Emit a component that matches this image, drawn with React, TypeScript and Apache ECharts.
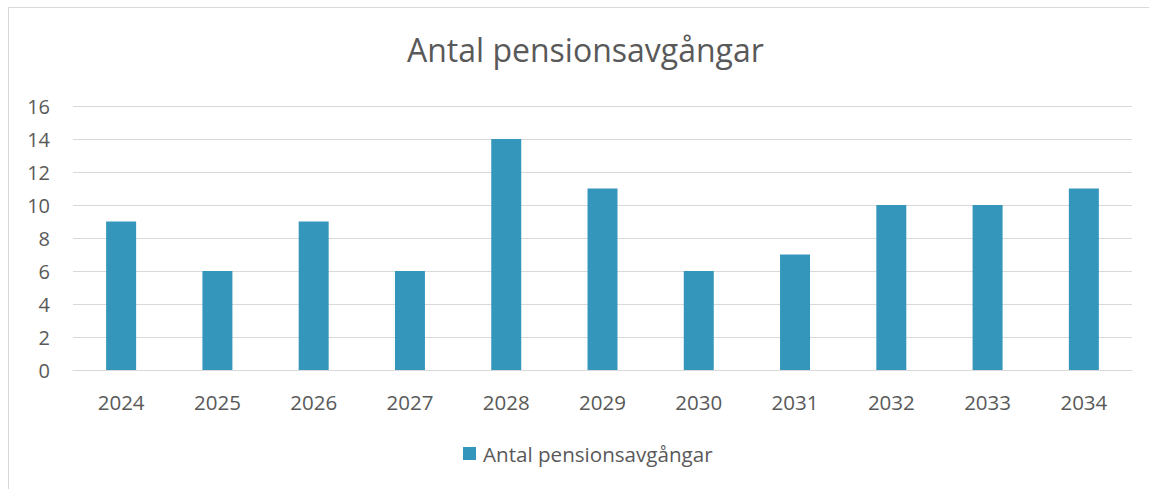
import React, { useEffect, useRef } from "react";
import * as echarts from "echarts";

const years = ["2024", "2025", "2026", "2027", "2028", "2029", "2030", "2031", "2032", "2033", "2034"];
const values = [9, 6, 9, 6, 14, 11, 6, 7, 10, 10, 11];
const seriesName = "Antal pensionsavgångar";
const titleText = "Antal pensionsavgångar";

export default function App() {
  const ref = useRef<HTMLDivElement>(null);
  useEffect(() => {
    if (!ref.current) return;
    const chart = echarts.init(ref.current, null, { renderer: "svg" });
    const font = "Open Sans";
    chart.setOption({
      animation: false,
      backgroundColor: "#ffffff",
      title: {
        text: titleText,
        left: 402,
        top: 28,
        textStyle: { fontFamily: font, fontSize: 32, fontWeight: "normal", color: "#595959" },
      },
      graphic: [
        {
          type: "rect",
          shape: { x: 8.5, y: 7.5, width: 1300, height: 700 },
          style: { fill: "none", stroke: "#d9d9d9", lineWidth: 1 },
          silent: true,
        },
      ],
      grid: { left: 73, right: 17, top: 106, bottom: 119, containLabel: false },
      legend: {
        bottom: 20,
        left: 458,
        itemWidth: 13,
        itemHeight: 13,
        itemGap: 10,
        icon: "rect",
        textStyle: { fontFamily: font, fontSize: 20.6, color: "#595959", padding: [0, 0, 0, 2] },
        data: [seriesName],
      },
      xAxis: {
        type: "category",
        data: years,
        axisLine: { show: true, lineStyle: { color: "#d9d9d9", width: 1 } },
        axisTick: { show: false },
        axisLabel: { fontFamily: font, fontSize: 20.5, color: "#595959", margin: 21 },
      },
      yAxis: {
        type: "value",
        min: 0,
        max: 16,
        interval: 2,
        axisLine: { show: false },
        axisTick: { show: false },
        splitLine: { lineStyle: { color: "#d9d9d9", width: 1 } },
        axisLabel: { fontFamily: font, fontSize: 20, color: "#595959", margin: 23 },
      },
      series: [
        {
          name: seriesName,
          type: "bar",
          data: values,
          barWidth: 30,
          itemStyle: { color: "#3596BC" },
        },
      ],
    });
    return () => chart.dispose();
  }, []);
  return (
    <div
      ref={ref}
      style={{ position: "fixed", left: 0, top: 0, width: 1149, height: 489 }}
    />
  );
}
